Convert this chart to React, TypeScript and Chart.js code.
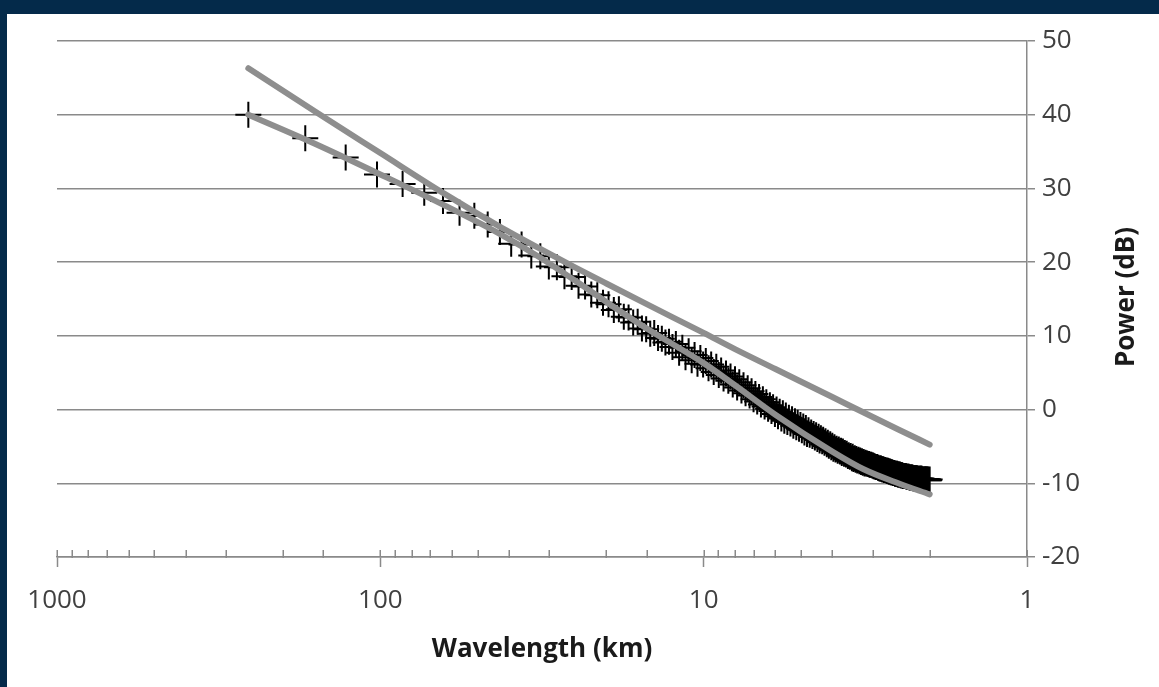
import React, { useEffect, useRef } from "react";
import { Chart, registerables } from "chart.js";

Chart.register(...registerables);

// Measured spectrum: wavelength (km) and power (dB)
const wavelengthsKm = [
  256, 170.67, 128, 102.4, 85.33, 73.14, 64, 56.89, 51.2, 46.55,
  42.67, 39.38, 36.57, 34.13, 32, 30.12, 28.44, 26.95, 25.6, 24.38,
  23.27, 22.26, 21.33, 20.48, 19.69, 18.96, 18.29, 17.66, 17.07, 16.52,
  16, 15.52, 15.06, 14.63, 14.22, 13.84, 13.47, 13.13, 12.8, 12.49,
  12.19, 11.91, 11.64, 11.38, 11.13, 10.89, 10.67, 10.45, 10.24, 10.04,
  9.85, 9.66, 9.48, 9.31, 9.14, 8.98, 8.83, 8.68, 8.53, 8.39,
  8.26, 8.13, 8, 7.88, 7.76, 7.64, 7.53, 7.42, 7.31, 7.21,
  7.11, 7.01, 6.92, 6.83, 6.74, 6.65, 6.56, 6.48, 6.4, 6.32,
  6.24, 6.17, 6.1, 6.02, 5.95, 5.89, 5.82, 5.75, 5.69, 5.63,
  5.57, 5.51, 5.45, 5.39, 5.33, 5.28, 5.22, 5.17, 5.12, 5.07,
  5.02, 4.97, 4.92, 4.88, 4.83, 4.79, 4.74, 4.7, 4.65, 4.61,
  4.57, 4.53, 4.49, 4.45, 4.41, 4.38, 4.34, 4.3, 4.27, 4.23,
  4.2, 4.16, 4.13, 4.1, 4.06, 4.03, 4, 3.97, 3.94, 3.91,
  3.88, 3.85, 3.82, 3.79, 3.76, 3.74, 3.71, 3.68, 3.66, 3.63,
  3.61, 3.58, 3.56, 3.53, 3.51, 3.48, 3.46, 3.44, 3.41, 3.39,
  3.37, 3.35, 3.32, 3.3, 3.28, 3.26, 3.24, 3.22, 3.2, 3.18,
  3.16, 3.14, 3.12, 3.1, 3.08, 3.07, 3.05, 3.03, 3.01, 2.99,
  2.98, 2.96, 2.94, 2.93, 2.91, 2.89, 2.88, 2.86, 2.84, 2.83,
  2.81, 2.8, 2.78, 2.77, 2.75, 2.74, 2.72, 2.71, 2.69, 2.68,
  2.67, 2.65, 2.64, 2.63, 2.61, 2.6, 2.59, 2.57, 2.56, 2.55,
  2.53, 2.52, 2.51, 2.5, 2.49, 2.47, 2.46, 2.45, 2.44, 2.43,
  2.42, 2.4, 2.39, 2.38, 2.37, 2.36, 2.35, 2.34, 2.33, 2.32,
  2.31, 2.3, 2.29, 2.28, 2.27, 2.26, 2.25, 2.24, 2.23, 2.22,
  2.21, 2.2, 2.19, 2.18, 2.17, 2.16, 2.15, 2.14, 2.13, 2.12,
  2.12, 2.11, 2.1, 2.09, 2.08, 2.07, 2.06, 2.06, 2.05, 2.04,
  2.03, 2.02, 2.02, 2.01, 2,
];

const measuredPowerDb = [
  40.0, 36.8, 34.2, 31.9, 30.6, 29.4, 28.3, 26.7, 26.3, 25.1,
  24.1, 22.5, 22.4, 20.9, 20.8, 19.4, 19.3, 18.1, 18.0, 16.8,
  16.7, 15.6, 15.5, 14.5, 14.3, 13.5, 13.6, 12.6, 12.5, 11.8,
  11.9, 11.0, 10.9, 10.3, 10.4, 9.7, 9.6, 9.1, 9.2, 8.5,
  8.9, 7.7, 8.4, 7.1, 7.9, 6.7, 7.4, 6.2, 7.0, 6.1,
  6.6, 5.6, 6.1, 5.1, 5.8, 4.7, 5.3, 4.2, 4.9, 3.9,
  4.5, 3.4, 4.1, 3.0, 3.7, 2.6, 3.3, 2.2, 2.9, 1.9,
  2.5, 1.4, 2.1, 1.1, 1.7, 0.7, 1.4, 0.4, 1.0, 0.1,
  0.6, -0.2, 0.3, -0.6, 0.0, -0.9, -0.3, -1.2, -0.5, -1.5,
  -0.8, -1.7, -1.1, -1.9, -1.3, -2.2, -1.6, -2.4, -1.8, -2.6,
  -2.1, -2.8, -2.3, -3.1, -2.5, -3.3, -2.8, -3.4, -3.1, -3.6,
  -3.3, -3.8, -3.5, -4.0, -3.7, -4.2, -3.9, -4.3, -4.1, -4.5,
  -4.3, -4.7, -4.5, -4.9, -4.7, -5.1, -4.9, -5.3, -5.1, -5.4,
  -5.3, -5.6, -5.4, -5.7, -5.6, -5.9, -5.7, -6.0, -5.9, -6.1,
  -6.0, -6.3, -6.2, -6.4, -6.3, -6.6, -6.4, -6.7, -6.6, -6.8,
  -6.7, -6.9, -6.8, -7.0, -6.9, -7.1, -7.0, -7.2, -7.1, -7.3,
  -7.2, -7.3, -7.3, -7.4, -7.4, -7.5, -7.5, -7.5, -7.6, -7.6,
  -7.7, -7.7, -7.8, -7.8, -7.8, -7.9, -7.9, -8.0, -8.0, -8.0,
  -8.1, -8.1, -8.1, -8.2, -8.2, -8.2, -8.3, -8.3, -8.3, -8.4,
  -8.4, -8.4, -8.5, -8.5, -8.5, -8.6, -8.6, -8.6, -8.7, -8.7,
  -8.7, -8.7, -8.8, -8.8, -8.8, -8.8, -8.9, -8.9, -8.9, -8.9,
  -9.0, -9.0, -9.0, -9.0, -9.0, -9.1, -9.1, -9.1, -9.1, -9.1,
  -9.2, -9.2, -9.2, -9.2, -9.2, -9.2, -9.3, -9.3, -9.3, -9.3,
  -9.3, -9.3, -9.3, -9.4, -9.4, -9.4, -9.4, -9.4, -9.4, -9.4,
  -9.4, -9.5, -9.5, -9.5, -9.5, -9.5, -9.5, -9.5, -9.5, -9.5,
  -9.5, -9.6, -9.5, -9.6, -9.5,
];

// Smooth curves (grey)
const curveWavelengthsKm = [256, 160, 100, 64, 43, 32, 25, 20, 15, 10, 8, 6, 4, 3.2, 2.5, 2];
const fittedPowerDb = [40.0, 36.1, 31.9, 27.8, 23.9, 20.6, 17.5, 14.6, 11.0, 6.3, 3.3, -0.7, -5.7, -8.1, -10.0, -11.5];
const straightPowerDb = [46.3, 40.5, 34.8, 29.4, 24.9, 21.8, 19.3, 17.1, 14.3, 10.4, 8.2, 5.5, 1.7, -0.4, -2.7, -4.75];

const xMajorTicks = [1000, 100, 10, 1];
const yMin = -20;
const yMax = 50;
const yStep = 10;

const NAVY = "#042a4a";
const AXIS = "#8a8a8a";
const LINE_GREY = "#8e8e8e";
const FONT = "'Open Sans', 'Noto Sans', sans-serif";

const isMajor = (v: number) => xMajorTicks.includes(v);

const decorPlugin = {
  id: "decor",
  afterDraw(chart: any) {
    const { ctx, chartArea } = chart;
    const xs = chart.scales.x;
    const y0 = xs.top;
    ctx.save();
    ctx.strokeStyle = AXIS;
    ctx.lineWidth = 1.5;
    xs.ticks.forEach((t: any) => {
      const px = Math.round(xs.getPixelForValue(t.value)) + 0.25;
      ctx.beginPath();
      ctx.moveTo(px, y0 - 7);
      ctx.lineTo(px, y0 + (isMajor(t.value) ? 0 : 1));
      ctx.stroke();
    });
    // rotated y-axis title (reads bottom-to-top)
    ctx.translate(1120, (chartArea.top + chartArea.bottom) / 2 - 2);
    ctx.rotate(-Math.PI / 2);
    ctx.font = `bold 26px ${FONT}`;
    ctx.fillStyle = "#1a1a1a";
    ctx.textAlign = "center";
    ctx.textBaseline = "middle";
    ctx.fillText("Power (dB)", 0, 0);
    ctx.restore();
  },
};

export default function App() {
  const canvasRef = useRef<HTMLCanvasElement>(null);

  useEffect(() => {
    document.body.style.margin = "0";
    const canvas = canvasRef.current;
    if (!canvas) return;

    const chart = new Chart(canvas, {
      type: "scatter",
      data: {
        datasets: [
          {
            label: "Straight",
            data: curveWavelengthsKm.map((x, i) => ({ x, y: straightPowerDb[i] })),
            showLine: true,
            borderColor: LINE_GREY,
            borderWidth: 6,
            borderCapStyle: "round",
            pointRadius: 0,
            cubicInterpolationMode: "monotone",
          } as any,
          {
            label: "Fit",
            data: curveWavelengthsKm.map((x, i) => ({ x, y: fittedPowerDb[i] })),
            showLine: true,
            borderColor: LINE_GREY,
            borderWidth: 6,
            borderCapStyle: "round",
            pointRadius: 0,
            cubicInterpolationMode: "monotone",
          } as any,
          {
            label: "Measured",
            data: wavelengthsKm.map((x, i) => ({ x, y: measuredPowerDb[i] })),
            showLine: false,
            pointStyle: "cross",
            pointRadius: 13,
            borderColor: "#000000",
            backgroundColor: "#000000",
            borderWidth: 2,
          } as any,
        ],
      },
      options: {
        responsive: false,
        animation: false,
        events: [],
        layout: { padding: { left: 50, top: 27, right: 0, bottom: 0 } },
        plugins: { legend: { display: false }, tooltip: { enabled: false } },
        scales: {
          x: {
            type: "logarithmic",
            position: "bottom",
            reverse: true,
            min: 1,
            max: 1000,
            grid: {
              drawOnChartArea: false,
              drawTicks: true,
              tickLength: 10,
              tickWidth: 1.5,
              tickColor: (c: any) => (c.tick && isMajor(c.tick.value) ? AXIS : "rgba(0,0,0,0)"),
            },
            border: { display: true, color: AXIS, width: 1.5 },
            ticks: {
              autoSkip: false,
              maxRotation: 0,
              padding: 18,
              color: "#404040",
              font: { family: FONT, size: 26 },
              callback: (v: any) => (isMajor(Number(v)) ? String(v) : ""),
            },
            title: {
              display: true,
              text: "Wavelength (km)",
              color: "#1a1a1a",
              font: { family: FONT, size: 26, weight: "bold" },
              padding: { top: 0, bottom: 22 },
            },
            afterFit: (s: any) => {
              s.height = 130;
            },
          } as any,
          y: {
            type: "linear",
            position: "right",
            min: yMin,
            max: yMax,
            grid: {
              color: AXIS,
              lineWidth: 1.5,
              drawTicks: true,
              tickLength: 8,
            },
            border: { display: true, color: AXIS, width: 1.5 },
            ticks: {
              stepSize: yStep,
              padding: 7,
              color: "#404040",
              font: { family: FONT, size: 26 },
            },
            title: { display: false },
            afterFit: (s: any) => {
              s.width = 132;
            },
          } as any,
        },
      },
      plugins: [decorPlugin],
    });

    return () => chart.destroy();
  }, []);

  return (
    <div style={{ position: "relative", width: 1159, height: 687, background: NAVY, overflow: "hidden" }}>
      <div style={{ position: "absolute", left: 7, top: 14, width: 1152, height: 673, background: "#ffffff" }}>
        <canvas ref={canvasRef} width={1152} height={673} style={{ display: "block", width: 1152, height: 673 }} />
      </div>
    </div>
  );
}
